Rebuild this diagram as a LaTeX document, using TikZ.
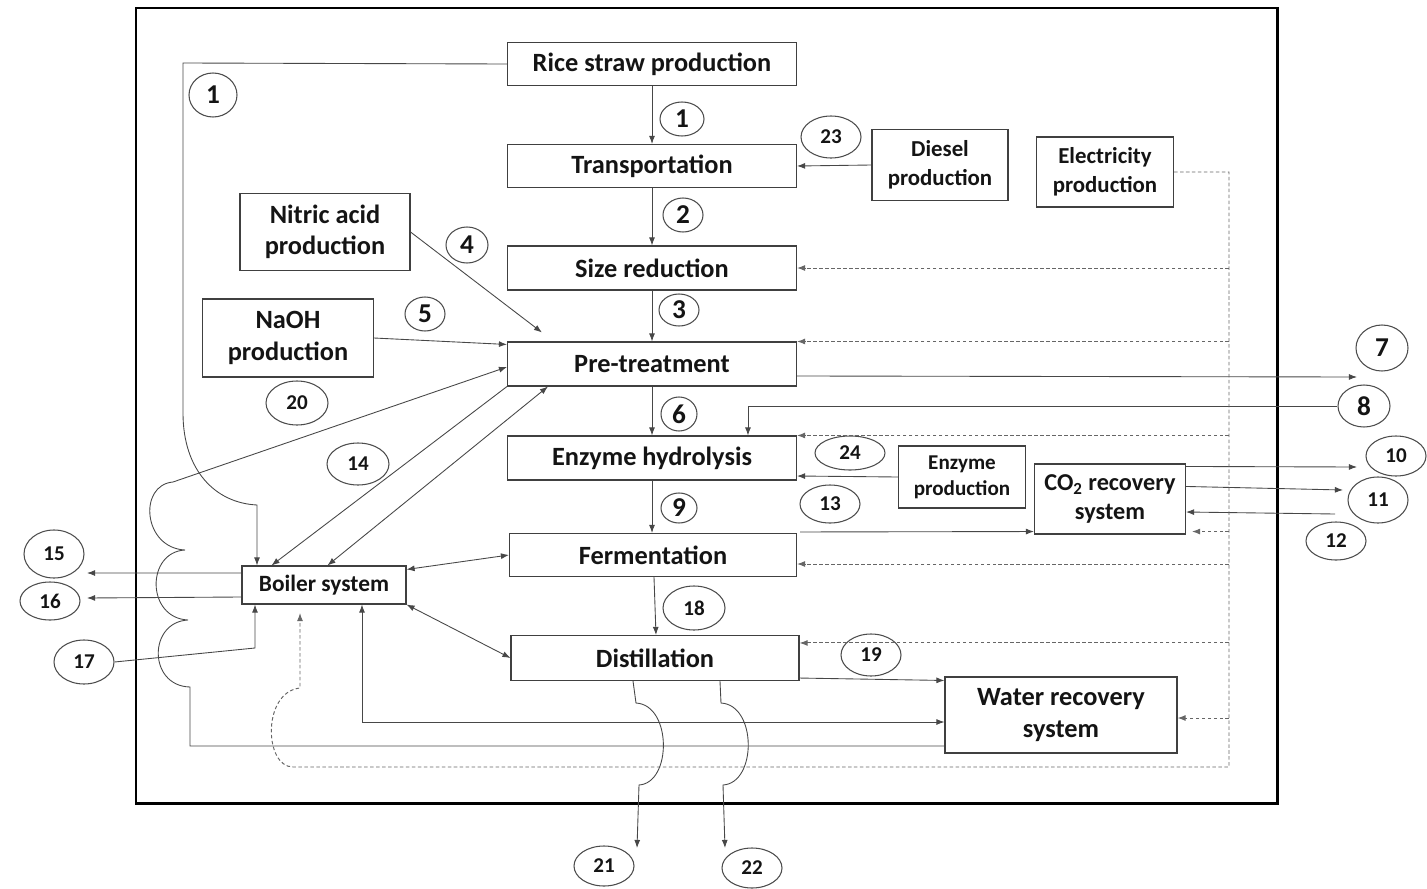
\documentclass[tikz,border=0pt]{standalone}
\usepackage{fontspec}
\setmainfont{Carlito}
\usetikzlibrary{shapes.geometric,arrows.meta}
\begin{document}
\begin{tikzpicture}[x=0.02cm,y=-0.02cm,
  ln/.style={draw=black!72, line width=0.5pt},
  arr/.style={ln, -{Latex[length=4.6pt,width=3.4pt]}},
  darr/.style={ln, {Latex[length=4.6pt,width=3.4pt]}-{Latex[length=4.6pt,width=3.4pt]}},
  dsh/.style={draw=black!60, line width=0.55pt, dash pattern=on 2pt off 1.4pt, -{Latex[length=4.6pt,width=3.4pt]}},
  sz/.style n args={2}{minimum width=#1*0.02cm, minimum height=#2*0.02cm},
  box/.style={draw=black!75, line width=0.6pt, inner sep=0pt, align=center, text=black!92},
  tA/.style={font=\bfseries\fontsize{15}{18}\selectfont},
  tB/.style={font=\bfseries\fontsize{13}{16.4}\selectfont},
  tC/.style={font=\bfseries\fontsize{12}{14.7}\selectfont},
  ell/.style={ellipse, draw=black!70, line width=0.6pt, inner sep=0pt, text=black!92},
  nA/.style={ell, font=\bfseries\fontsize{15.5}{15.5}\selectfont},
  nB/.style={ell, font=\bfseries\fontsize{12}{12}\selectfont},
]
\useasboundingbox (0,0) rectangle (1427,889);

% system boundary
\draw[line width=1.7pt] (136,8) rectangle (1277,803);

% process boxes
\node[box,tA,sz={289}{43}] (rice) at (652,64) {Rice straw production};
\node[box,tA,sz={289}{43}] (trans) at (652,166) {Transportation};
\node[box,tA,sz={289}{44}] (size) at (652,268) {Size reduction};
\node[box,tA,sz={289}{44}] (pre) at (652,364) {Pre-treatment};
\node[box,tA,sz={289}{44}] (hyd) at (652,458) {Enzyme hydrolysis};
\node[box,tA,sz={287}{43}] (ferm) at (653,555) {Fermentation};
\node[box,tA,sz={288}{45}] (dist) at (655,658) {Distillation};
\node[box,tB,sz={136}{71}] (diesel) at (940,165) {Diesel\\production};
\node[box,tB,sz={137}{70}] (elec) at (1105,172) {Electricity\\production};
\node[box,tA,sz={170}{77}] (nitric) at (325,232) {Nitric acid\\production};
\node[box,tA,sz={171}{78}] (naoh) at (288,338) {NaOH\\production};
\node[box,font=\bfseries\fontsize{13.3}{16}\selectfont,sz={164}{38}] (boiler) at (324,585) {Boiler system};
\node[box,tC,sz={127}{62}] (enzp) at (962,477) {Enzyme\\production};
\node[box,font=\bfseries\fontsize{13.8}{16}\selectfont,sz={151}{70}] (co2) at (1110,499) {CO\textsubscript{2} recovery\\system};
\node[box,font=\bfseries\fontsize{15}{18.7}\selectfont,sz={232}{76}] (water) at (1061,715) {Water recovery\\system};

% flow labels
\node[nA,sz={48}{44}] (n1a) at (213,95) {1};
\node[nA,sz={44}{34}] (n1b) at (682,119) {1};
\node[nB,sz={60}{42}] (n23) at (831,137) {23};
\node[nA,sz={40}{34}] (n2) at (683,215) {2};
\node[nA,sz={42}{36}] (n4) at (467,245) {4};
\node[nA,sz={40}{32}] (n3) at (679,310) {3};
\node[nA,sz={40}{34}] (n5) at (425,314) {5};
\node[nA,sz={52}{46}] (n7) at (1382,348) {7};
\node[nB,sz={62}{44}] (n20) at (297,403) {20};
\node[nA,sz={36}{34}] (n6) at (679,414) {6};
\node[nA,sz={52}{42}] (n8) at (1364,406) {8};
\node[nB,sz={62}{42}] (n14) at (358,464) {14};
\node[nB,sz={70}{34}] (n24) at (850,453) {24};
\node[nB,sz={60}{40}] (n10) at (1396,456) {10};
\node[nA,sz={36}{30}] (n9) at (679,508) {9};
\node[nB,sz={60}{38}] (n13) at (830,504) {13};
\node[nB,sz={60}{46}] (n11) at (1378,500) {11};
\node[nB,sz={60}{38}] (n12) at (1336,541) {12};
\node[nB,sz={60}{48}] (n15) at (54,554) {15};
\node[nB,sz={60}{38}] (n16) at (50,601) {16};
\node[nB,sz={60}{44}] (n17) at (84,662) {17};
\node[nB,sz={62}{44}] (n18) at (694,608) {18};
\node[nB,sz={60}{42}] (n19) at (871,655) {19};
\node[nB,sz={60}{40}] (n21) at (604,866) {21};
\node[nB,sz={60}{40}] (n22) at (752,868) {22};

% free ends and bend points
\coordinate (r1) at (183,63);
\coordinate (r2) at (183,413);
\coordinate (r3) at (257,505);
\coordinate (w1) at (190,746);
\coordinate (w2) at (190,687);
\coordinate (w3) at (188,620);
\coordinate (w4) at (185,550);
\coordinate (w5) at (173,482);
\coordinate (b17) at (255,648);
\coordinate (e15) at (87,573);
\coordinate (e16) at (87,598);
\coordinate (e7) at (1357,377);
\coordinate (e10) at (1357,467);
\coordinate (e11) at (1343,490);
\coordinate (s12) at (1335,514);
\coordinate (dtop) at (1229,172);
\coordinate (dbot) at (1229,767);
\coordinate (dc1) at (293,767);
\coordinate (dc2) at (300,688);
\coordinate (dend) at (300,613);
\coordinate (h21a) at (636,703);
\coordinate (h21b) at (639,785);
\coordinate (e21) at (637,848);
\coordinate (h22a) at (721,703);
\coordinate (h22b) at (723,785);
\coordinate (e22) at (725,848);

% main process chain
\draw[arr] (rice) -- (trans);
\draw[arr] (trans) -- (size);
\draw[arr] (size) -- (pre);
\draw[arr] (pre) -- (hyd);
\draw[arr] (hyd.south) -- (hyd.south |- ferm.north);
\draw[arr] ([xshift=0.02cm]ferm.south) -- ([xshift=0.02cm]dist.north);

% inputs
\draw[arr] (diesel.west) -- (trans.east);
\draw[arr] (nitric.east) -- ([xshift=0.7cm,yshift=0.18cm]pre.north west);
\draw[arr] (naoh.east) -- ([yshift=-0.06cm]pre.north west);
\draw[arr] (rice.west) -- (r1) -- (r2) .. controls (183,470) and (215,503) .. (r3) -- (r3 |- boiler.north);
\draw[arr] (pre.south west) -- ([xshift=0.6cm]boiler.north west);
\draw[darr] ([xshift=1.72cm]boiler.north west) -- ([xshift=0.82cm]pre.south west);
\draw[arr] ([yshift=-0.62cm]water.west) -- (w1) -- (w2)
  .. controls (148,686) and (148,622) .. (w3)
  .. controls (146,618) and (146,552) .. (w4)
  .. controls (143,548) and (138,485) .. (w5)
  -- ([yshift=-0.06cm]pre.west);

% boiler connections
\draw[darr] ([yshift=-0.08cm]boiler.north east) -- (ferm.west);
\draw[darr] (boiler.south east) -- (dist.west);
\draw[arr] ([yshift=0.24cm]boiler.west) -- (e15);
\draw[arr] ([yshift=-0.24cm]boiler.west) -- (e16);
\draw[arr] (n17.east) -- (b17) -- (b17 |- boiler.south);
\draw[darr] ([yshift=-0.14cm]water.west) -| ([xshift=0.76cm]boiler.south);

% outputs and side streams
\draw[arr] ([yshift=-0.24cm]pre.east) -- (e7);
\draw[arr] (n8.west) -| ([xshift=1.92cm]hyd.north);
\draw[arr] (enzp.west) -- ([yshift=-0.36cm]hyd.east);
\draw[arr] ([xshift=0.06cm,yshift=0.02cm]ferm.north east) -- ([yshift=0.06cm]co2.south west);
\draw[arr] ([yshift=-0.06cm]co2.north east) -- (e10);
\draw[arr] ([yshift=-0.46cm]co2.north east) -- (e11);
\draw[arr] (s12) -- ([yshift=-0.26cm]co2.east);
\draw[arr] ([yshift=0.06cm]dist.south east) -- ([yshift=-0.08cm]water.north west);
\draw[arr] ([xshift=-0.44cm]dist.south) -- (h21a) .. controls (672,705) and (672,783) .. (h21b) -- (e21);
\draw[arr] ([xshift=1.3cm]dist.south) -- (h22a) .. controls (757,705) and (757,783) .. (h22b) -- (e22);

% electricity supply
\draw[dsh] (elec.east) -- (dtop) -- (dbot) -- (dc1) .. controls (264,767) and (262,692) .. (dc2) -- (dend);
\draw[dsh] (dtop |- size.east) -- (size.east);
\draw[dsh] (dtop |- pre.north east) -- (pre.north east);
\draw[dsh] (dtop |- hyd.north east) -- (hyd.north east);
\draw[dsh] ([yshift=0.06cm]dtop |- co2.south east) -- ([xshift=0.12cm,yshift=0.06cm]co2.south east);
\draw[dsh] ([yshift=-0.18cm]dtop |- ferm.east) -- ([yshift=-0.18cm]ferm.east);
\draw[dsh] ([yshift=-0.16cm]dtop |- dist.north east) -- ([yshift=-0.16cm]dist.north east);
\draw[dsh] ([yshift=-0.06cm]dtop |- water.east) -- ([yshift=-0.06cm]water.east);
\end{tikzpicture}
\end{document}
